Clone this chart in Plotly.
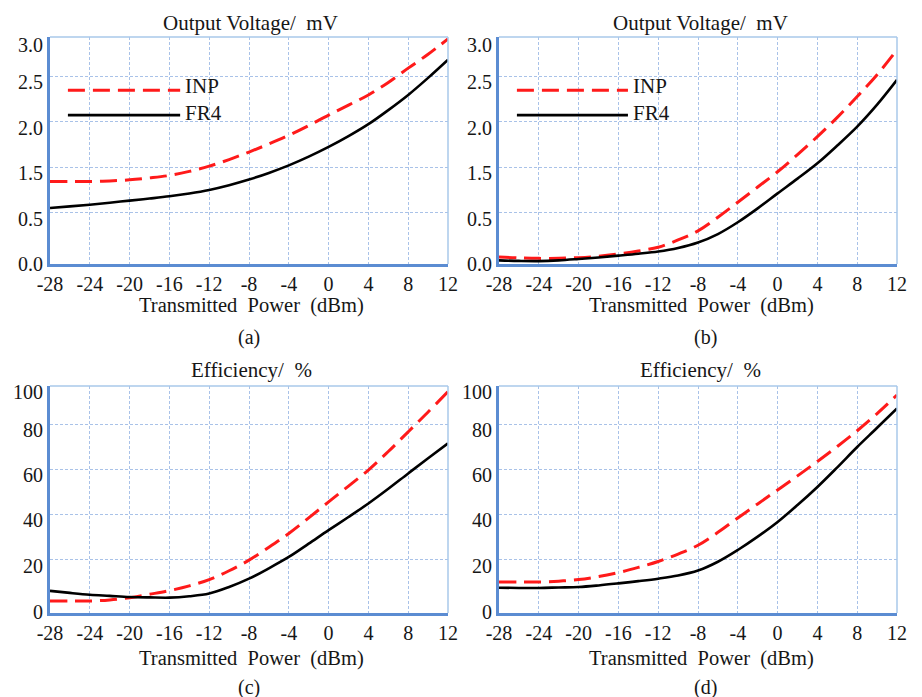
import plotly.graph_objects as go

# ---------------- data ----------------
power_dbm = [-28, -26, -24, -22, -20, -18, -16, -14, -12, -10, -8, -6, -4, -2, 0, 2, 4, 6, 8, 10, 12]

# (a) Output voltage (axis units as drawn)
volt_a_inp = [1.343, 1.343, 1.343, 1.350, 1.362, 1.383, 1.410, 1.455, 1.513, 1.585, 1.668,
              1.757, 1.853, 1.960, 2.075, 2.185, 2.297, 2.435, 2.592, 2.745, 2.914]
volt_a_fr4 = [1.051, 1.070, 1.088, 1.110, 1.133, 1.156, 1.181, 1.212, 1.251, 1.303, 1.365,
              1.438, 1.521, 1.617, 1.724, 1.843, 1.975, 2.130, 2.297, 2.485, 2.685]
# (b) Output voltage
volt_b_inp = [0.512, 0.502, 0.497, 0.498, 0.505, 0.520, 0.545, 0.578, 0.620, 0.700, 0.800,
              0.950, 1.115, 1.283, 1.451, 1.640, 1.838, 2.050, 2.279, 2.520, 2.795]
volt_b_fr4 = [0.475, 0.469, 0.467, 0.475, 0.490, 0.507, 0.527, 0.548, 0.573, 0.612, 0.672,
              0.765, 0.895, 1.048, 1.213, 1.375, 1.544, 1.740, 1.948, 2.190, 2.463]
# (c) Efficiency
eff_c_inp = [1.8, 1.8, 1.8, 2.3, 3.3, 4.8, 6.4, 8.5, 11.3, 15.2, 19.9,
             25.6, 31.7, 38.6, 45.7, 52.7, 59.8, 68.0, 76.7, 85.5, 94.5]
eff_c_fr4 = [6.3, 5.4, 4.6, 4.1, 3.6, 3.4, 3.3, 3.9, 5.1, 8.0, 11.7,
             16.3, 21.3, 27.2, 33.2, 39.0, 45.0, 51.5, 58.3, 65.0, 71.6]
# (d) Efficiency
eff_d_inp = [10.2, 10.2, 10.2, 10.6, 11.3, 12.6, 14.4, 16.7, 19.3, 22.6, 26.5,
             32.2, 38.6, 44.8, 51.0, 57.2, 63.6, 70.2, 77.2, 84.8, 93.0]
eff_d_fr4 = [7.7, 7.6, 7.6, 7.8, 8.0, 8.7, 9.6, 10.6, 11.7, 13.1, 15.3,
             19.2, 24.4, 30.3, 36.8, 44.3, 52.3, 61.0, 70.0, 78.5, 87.1]

x_ticks = [-28, -24, -20, -16, -12, -8, -4, 0, 4, 8, 12]
volt_grid = [1.0, 1.5, 2.0, 2.5]
volt_label_pos = [0.44, 0.934, 1.434, 1.934, 2.434, 2.85]
volt_labels = ["0.0", "0.5", "1.5", "2.0", "2.5", "3.0"]
eff_grid = [20, 40, 60, 80]
eff_label_pos = [-3.1, 17.5, 37.5, 57.5, 77.5, 94.3]
eff_labels = ["0", "20", "40", "60", "80", "100"]

series_names = ["INP", "FR4"]
titles = ["Output Voltage/  mV", "Output Voltage/  mV", "Efficiency/  %", "Efficiency/  %"]
captions = ["(a)", "(b)", "(c)", "(d)"]
x_title = "Transmitted  Power  (dBm)"

# ---------------- style ----------------
FONT = "Liberation Serif, Times New Roman, serif"
TXT = "#161616"
RED = "#FF1A1A"
BLACK = "#000000"
AX_BLUE = "#5B8CD2"
FRAME_LIGHT = "#A8C8EA"
GRID = "#A9C2E8"

W, H = 922, 697
xdom = [(50 / W, 448 / W), (499 / W, 897 / W)]
ydom_top = (1 - 264 / H, 1 - 37 / H)
ydom_bot = (1 - 613 / H, 1 - 386 / H)

fig = go.Figure()

panels = [
    (volt_a_inp, volt_a_fr4, 1, xdom[0], ydom_top, "volt"),
    (volt_b_inp, volt_b_fr4, 2, xdom[1], ydom_top, "volt"),
    (eff_c_inp, eff_c_fr4, 3, xdom[0], ydom_bot, "eff"),
    (eff_d_inp, eff_d_fr4, 4, xdom[1], ydom_bot, "eff"),
]

shapes = []
annotations = []

for inp, fr4, k, xd, yd, kind in panels:
    xa = "x" if k == 1 else f"x{k}"
    ya = "y" if k == 1 else f"y{k}"
    fig.add_trace(go.Scatter(x=power_dbm, y=inp, mode="lines", name=series_names[0],
                             line=dict(color=RED, width=3, dash="17px,8px", shape="spline", smoothing=1.0),
                             xaxis=xa, yaxis=ya, showlegend=False))
    fig.add_trace(go.Scatter(x=power_dbm, y=fr4, mode="lines", name=series_names[1],
                             line=dict(color=BLACK, width=2.6, shape="spline", smoothing=1.0),
                             xaxis=xa, yaxis=ya, showlegend=False))

    if kind == "volt":
        yr = [0.435, 2.935]
        grid_vals, lab_pos, labs = volt_grid, volt_label_pos, volt_labels
    else:
        yr = [-3.5, 97.0]
        grid_vals, lab_pos, labs = eff_grid, eff_label_pos, eff_labels

    xkey = "xaxis" if k == 1 else f"xaxis{k}"
    ykey = "yaxis" if k == 1 else f"yaxis{k}"
    fig.update_layout(**{
        xkey: dict(domain=list(xd), anchor=ya, range=[-28, 12], tickmode="array",
                   tickvals=x_ticks, ticktext=[str(v) for v in x_ticks],
                   showgrid=True, gridcolor=GRID, griddash="3px,2px", gridwidth=1,
                   showline=True, linecolor=AX_BLUE, linewidth=3, zeroline=False,
                   ticks="", automargin=False,
                   tickfont=dict(family=FONT, size=20, color=TXT), fixedrange=True),
        ykey: dict(domain=list(yd), anchor=xa, range=yr, tickmode="array",
                   tickvals=lab_pos, ticktext=labs, showgrid=False,
                   minor=dict(tickmode="array", tickvals=grid_vals, showgrid=True,
                              gridcolor=GRID, griddash="3px,2px", gridwidth=1, ticks=""),
                   showline=True, linecolor=AX_BLUE, linewidth=3, zeroline=False,
                   ticks="", automargin=False,
                   tickfont=dict(family=FONT, size=20, color=TXT), fixedrange=True),
    })

    # light top / right frame
    shapes.append(dict(type="line", xref=f"{xa} domain", yref=f"{ya} domain",
                       x0=0, x1=1, y0=1, y1=1, line=dict(color=FRAME_LIGHT, width=1.5)))
    shapes.append(dict(type="line", xref=f"{xa} domain", yref=f"{ya} domain",
                       x0=1, x1=1, y0=0, y1=1, line=dict(color=FRAME_LIGHT, width=1.5)))

# text positions (paper coords)
def py(pix):
    return 1 - pix / H

def px(pix):
    return pix / W

title_pos = [(250, 23), (700, 23), (251, 370), (700, 370)]
xtitle_pos = [(252, 306), (701, 306), (252, 658), (701, 658)]
cap_pos = [(249, 337), (705, 337), (249, 687), (705, 687)]

for i in range(4):
    annotations.append(dict(text=titles[i], x=px(title_pos[i][0]), y=py(title_pos[i][1]),
                            xref="paper", yref="paper", showarrow=False, xanchor="center", yanchor="middle",
                            font=dict(family=FONT, size=21, color=TXT)))
    annotations.append(dict(text=x_title, x=px(xtitle_pos[i][0]), y=py(xtitle_pos[i][1]),
                            xref="paper", yref="paper", showarrow=False, xanchor="center", yanchor="middle",
                            font=dict(family=FONT, size=20.5, color=TXT)))
    annotations.append(dict(text=captions[i], x=px(cap_pos[i][0]), y=py(cap_pos[i][1]),
                            xref="paper", yref="paper", showarrow=False, xanchor="center", yanchor="middle",
                            font=dict(family=FONT, size=20, color=TXT)))

# in-plot legends for (a) and (b)
for xa, ya, x0, x1, xt in [("x", "y", 0.045, 0.327, 0.335), ("x2", "y2", 0.045, 0.324, 0.332)]:
    shapes.append(dict(type="line", xref=f"{xa} domain", yref=f"{ya} domain",
                       x0=x0, x1=x1, y0=0.765, y1=0.765,
                       line=dict(color=RED, width=3, dash="17px,8px")))
    shapes.append(dict(type="line", xref=f"{xa} domain", yref=f"{ya} domain",
                       x0=x0, x1=x1, y0=0.656, y1=0.656,
                       line=dict(color=BLACK, width=2.6)))
    annotations.append(dict(text=series_names[0], x=xt, y=0.784, xref=f"{xa} domain", yref=f"{ya} domain",
                            showarrow=False, xanchor="left", yanchor="middle",
                            font=dict(family=FONT, size=21, color=TXT)))
    annotations.append(dict(text=series_names[1], x=xt, y=0.665, xref=f"{xa} domain", yref=f"{ya} domain",
                            showarrow=False, xanchor="left", yanchor="middle",
                            font=dict(family=FONT, size=21, color=TXT)))

fig.update_layout(template="none", width=W, height=H,
                  margin=dict(l=0, r=0, t=0, b=0, pad=0, autoexpand=False),
                  paper_bgcolor="white", plot_bgcolor="white",
                  shapes=shapes, annotations=annotations, showlegend=False)

fig.write_html("out.html", include_plotlyjs=True, config={"displayModeBar": False})
